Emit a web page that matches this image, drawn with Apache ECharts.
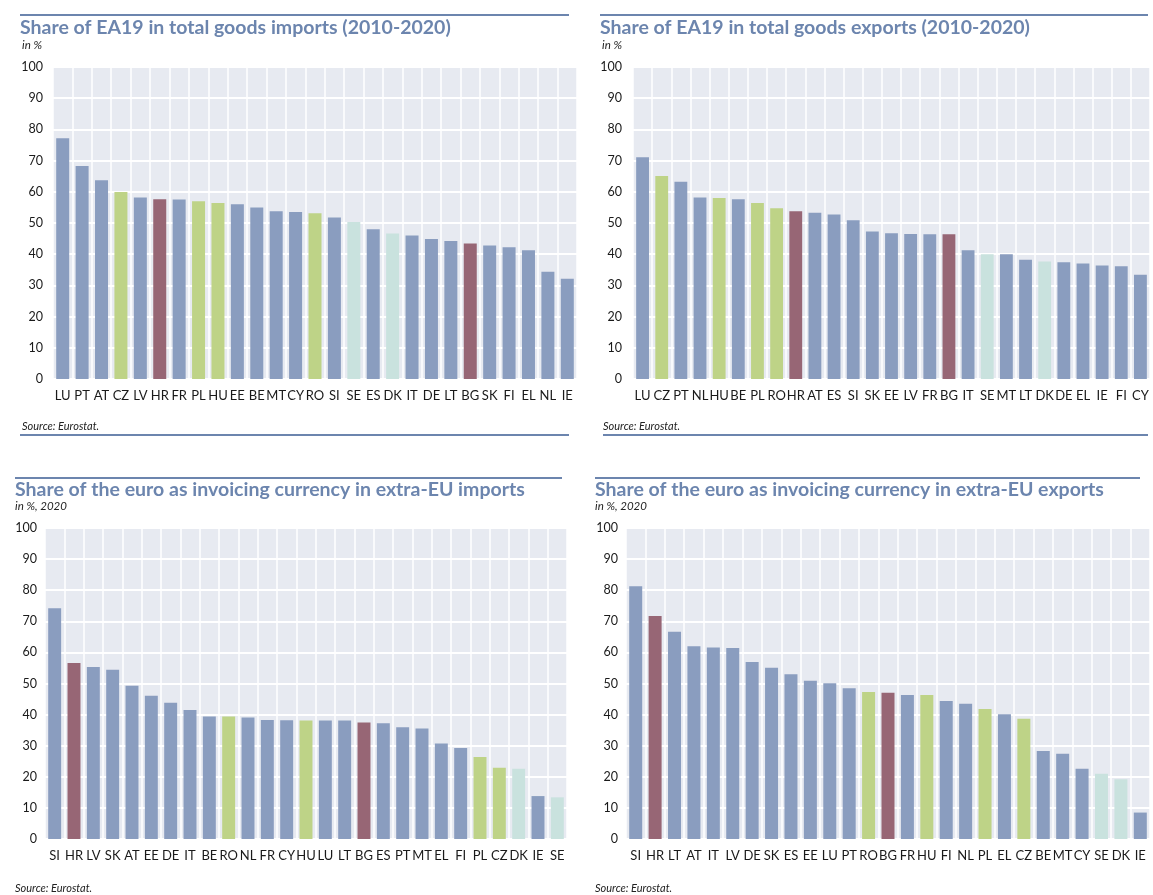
<!DOCTYPE html>
<html><head><meta charset="utf-8">
<script src="https://cdn.jsdelivr.net/npm/echarts@6/dist/echarts.min.js"></script>
<style>html,body{margin:0;padding:0;background:#fff}#c{width:1153px;height:895px}</style>
</head><body><div id="c"></div>
<script>
// ---- Data ----
const impCats = ['LU','PT','AT','CZ','LV','HR','FR','PL','HU','EE','BE','MT','CY','RO','SI','SE','ES','DK','IT','DE','LT','BG','SK','FI','EL','NL','IE'];
const impVals = [77.2,68.3,63.7,59.9,58.2,57.6,57.5,57.0,56.4,56.0,55.0,53.8,53.5,53.1,51.8,50.3,48.0,46.6,46.0,44.9,44.2,43.4,42.8,42.2,41.3,34.4,32.1];

const expCats = ['LU','CZ','PT','NL','HU','BE','PL','RO','HR','AT','ES','SI','SK','EE','LV','FR','BG','IT','SE','MT','LT','DK','DE','EL','IE','FI','CY'];
const expVals = [71.1,65.1,63.2,58.2,58.0,57.6,56.4,54.7,53.8,53.3,52.7,50.9,47.3,46.7,46.5,46.4,46.4,41.3,40.0,40.0,38.2,37.7,37.4,37.0,36.4,36.1,33.4];

const invImpCats = ['SI','HR','LV','SK','AT','EE','DE','IT','BE','RO','NL','FR','CY','HU','LU','LT','BG','ES','PT','MT','EL','FI','PL','CZ','DK','IE','SE'];
const invImpVals = [74.2,56.6,55.3,54.4,49.3,46.1,43.8,41.5,39.4,39.4,39.1,38.3,38.2,38.1,38.1,38.1,37.5,37.2,35.9,35.5,30.7,29.3,26.4,22.9,22.6,13.8,13.4];

const invExpCats = ['SI','HR','LT','AT','IT','LV','DE','SK','ES','EE','LU','PT','RO','BG','FR','HU','FI','NL','PL','EL','CZ','BE','MT','CY','SE','DK','IE'];
const invExpVals = [81.3,71.7,66.6,62.0,61.6,61.4,56.9,55.1,53.0,50.9,50.1,48.5,47.3,47.0,46.3,46.3,44.4,43.5,41.8,40.1,38.7,28.3,27.4,22.6,21.0,19.2,8.5];

const yTicks = [0,10,20,30,40,50,60,70,80,90,100];

const titles = [
  'Share of EA19 in total goods imports (2010-2020)',
  'Share of EA19 in total goods exports (2010-2020)',
  'Share of the euro as invoicing currency in extra-EU imports',
  'Share of the euro as invoicing currency in extra-EU exports'
];
const units = ['in %','in %','in %, 2020','in %, 2020'];
const sourceText = 'Source: Eurostat.';

// country groups (colour classes)
const greenGroup = ['CZ','PL','HU','RO'];
const maroonGroup = ['HR','BG'];
const tealGroup = ['SE','DK'];

// ---- Styles ----
const C_BLUE = '#8A9DBF', C_GREEN = '#BED387', C_MAROON = '#976675', C_TEAL = '#C9E2DE';
const C_TITLE = '#6C85AE', C_BG = '#E7EAF1';
const FONT = 'Lato';

function colorFor(c){
  if (greenGroup.includes(c)) return C_GREEN;
  if (maroonGroup.includes(c)) return C_MAROON;
  if (tealGroup.includes(c)) return C_TEAL;
  return C_BLUE;
}

const panels = [
  {cats: impCats, vals: impVals, grid:{left:53, right:576, top:67, bottom:516}, tx:20, ty:18, ux:22, uy:39, sx:22, sy:421, line:[20,569,15], srcLine:[20,569,435], ym:10},
  {cats: expCats, vals: expVals, grid:{left:633, right:3, top:67, bottom:516}, tx:600, ty:18, ux:602, uy:39, sx:603, sy:421, line:[600,1148,15], srcLine:[603,1148,435], ym:11},
  {cats: invImpCats, vals: invImpVals, grid:{left:45, right:586, top:528, bottom:56}, tx:15, ty:480, ux:15, uy:500, sx:15, sy:883, line:[15,562,478], srcLine:null, ym:8},
  {cats: invExpCats, vals: invExpVals, grid:{left:626, right:3, top:528, bottom:56}, tx:595, ty:480, ux:595, uy:500, sx:595, sy:883, line:[595,1140,478], srcLine:null, ym:8}
];

const option = {
  animation:false,
  backgroundColor:'#fff',
  textStyle:{fontFamily:FONT},
  title:[], grid:[], xAxis:[], yAxis:[], series:[], graphic:[]
};

panels.forEach((p,i)=>{
  option.grid.push(Object.assign({show:true, backgroundColor:C_BG, borderWidth:0, containLabel:false}, p.grid));
  option.xAxis.push({
    type:'category', gridIndex:i, data:p.cats,
    axisLine:{show:false}, axisTick:{show:false},
    axisLabel:{interval:0, color:'#1a1a1a', fontSize:13, fontFamily:FONT, margin:10},
    splitLine:{show:true, interval:0, lineStyle:{color:'#ffffff', width:1.5}}
  });
  option.yAxis.push({
    type:'value', gridIndex:i, min:yTicks[0], max:yTicks[yTicks.length-1], interval:yTicks[1]-yTicks[0],
    axisLine:{show:false}, axisTick:{show:false},
    axisLabel:{color:'#1a1a1a', fontSize:12.5, fontFamily:FONT, margin:p.ym},
    splitLine:{show:true, lineStyle:{color:'#ffffff', width:2}}
  });
  option.series.push({
    type:'bar', xAxisIndex:i, yAxisIndex:i, barCategoryGap:'33%',
    data:p.vals.map((v,k)=>({value:v, itemStyle:{color:colorFor(p.cats[k])}}))
  });
  option.title.push({text:titles[i], left:p.tx, top:p.ty, padding:0,
    textStyle:{fontFamily:FONT, fontWeight:'bold', fontSize:19.5, color:C_TITLE}});
  option.title.push({text:units[i], left:p.ux, top:p.uy, padding:0,
    textStyle:{fontFamily:FONT, fontStyle:'italic', fontWeight:'normal', fontSize:11.5, color:'#222'}});
  option.title.push({text:sourceText, left:p.sx, top:p.sy, padding:0,
    textStyle:{fontFamily:FONT, fontStyle:'italic', fontWeight:'normal', fontSize:11, color:'#222'}});
  option.graphic.push({type:'line', shape:{x1:p.line[0], y1:p.line[2], x2:p.line[1], y2:p.line[2]}, style:{stroke:C_TITLE, lineWidth:2}});
  if (p.srcLine) option.graphic.push({type:'line', shape:{x1:p.srcLine[0], y1:p.srcLine[2], x2:p.srcLine[1], y2:p.srcLine[2]}, style:{stroke:C_TITLE, lineWidth:2}});
});

const chart = echarts.init(document.getElementById('c'), null, {renderer:'canvas'});
chart.setOption(option);
</script>
</body></html>
